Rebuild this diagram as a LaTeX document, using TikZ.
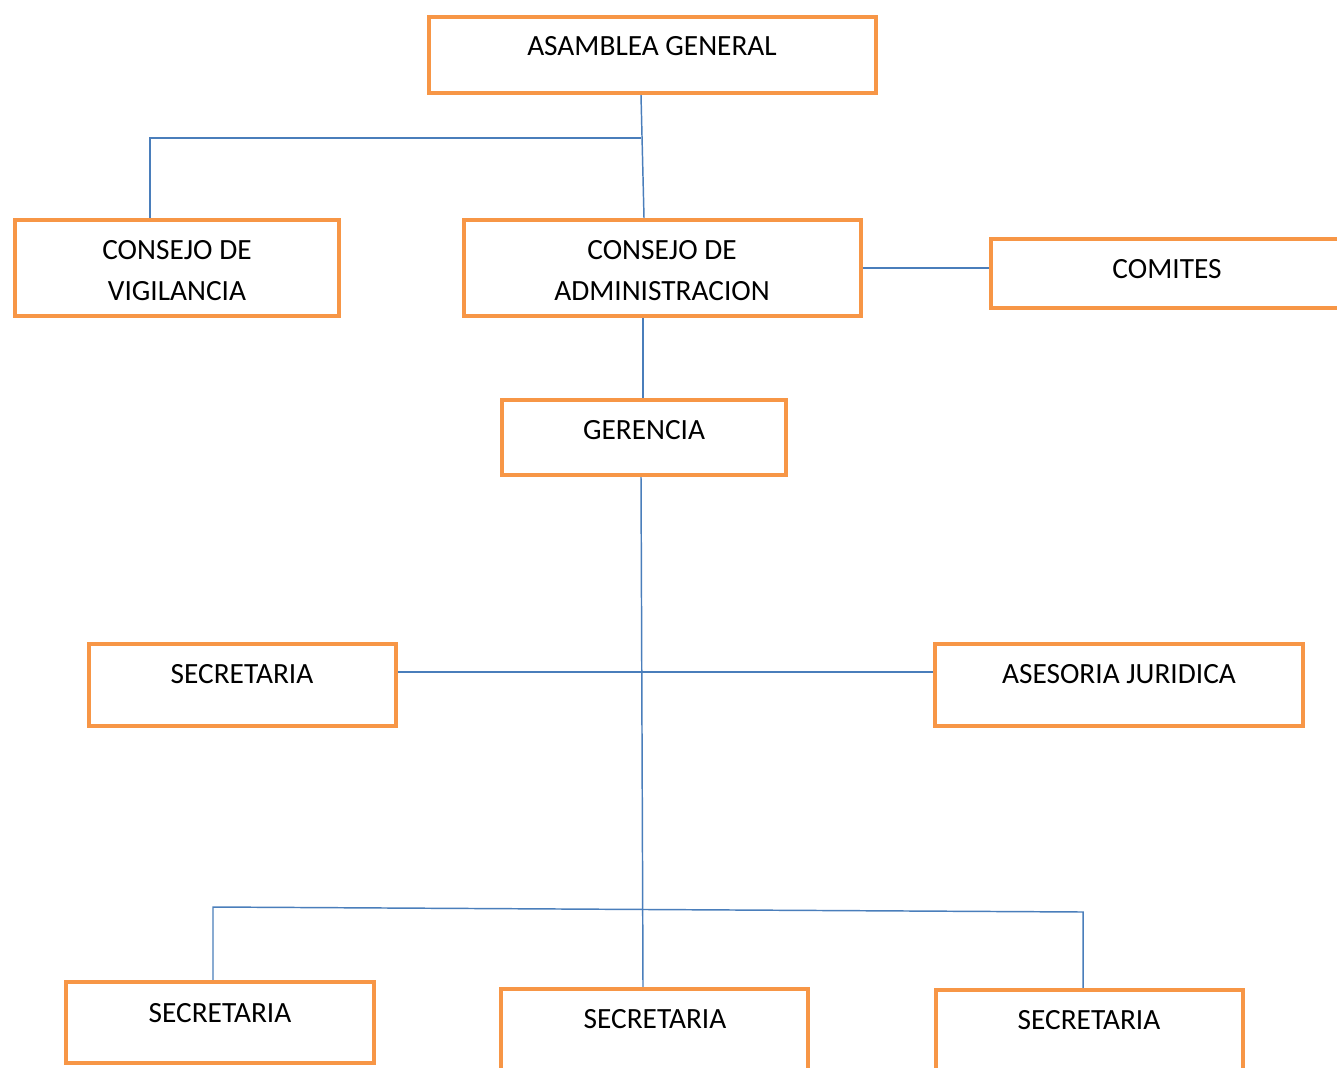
\documentclass[tikz,border=0pt]{standalone}
\usepackage{fontspec}
\setmainfont{Carlito}
\usetikzlibrary{fit}
\definecolor{boxorange}{HTML}{F79646}
\definecolor{connblue}{HTML}{4A7EBB}
\tikzset{
  box/.style={draw=boxorange, line width=3.2pt, fill=white, inner sep=0pt, rectangle},
  conn/.style={draw=connblue, line width=1.1pt},
  txt/.style={inner sep=0pt, anchor=base, align=center, font=\fontsize{22}{30.75}\selectfont, text=black}
}
\begin{document}
\begin{tikzpicture}[x=0.75pt,y=-0.75pt]
\useasboundingbox (0,0) rectangle (1337,1067);
\clip (0,0) rectangle (1337,1067);
\fill[white] (0,0) rectangle (1337,1067);

% boxes
\node[box, fit={(429,17) (876,93)}] (ag) {};
\node[box, fit={(15,220) (339,316)}] (cv) {};
\node[box, fit={(464,220) (861,316)}] (cadm) {};
\node[box, fit={(991,239) (1350,308)}] (com) {};
\node[box, fit={(502,400) (786,475)}] (ger) {};
\node[box, fit={(89,644) (396,726)}] (sec) {};
\node[box, fit={(935,644) (1303,726)}] (ase) {};
\node[box, fit={(66,982) (374,1063)}] (sb1) {};
\node[box, fit={(501,989) (808,1100)}] (sb2) {};
\node[box, fit={(936,990) (1243,1100)}] (sb3) {};

% texts (two-line nodes: base = baseline of last line)
\node[txt] (tag) at (652,55) {ASAMBLEA GENERAL};
\node[txt] (tcv) at (177,300) {CONSEJO DE\\VIGILANCIA};
\node[txt] (tcadm) at (662,300) {CONSEJO DE\\ADMINISTRACION};
\node[txt] (tcom) at (1167,278) {COMITES};
\node[txt] (tger) at (644,439) {GERENCIA};
\node[txt] (tsec) at (242,683) {SECRETARIA};
\node[txt] (tase) at (1119,683) {ASESORIA JURIDICA};
\node[txt] (tsb1) at (220,1022) {SECRETARIA};
\node[txt] (tsb2) at (655,1028) {SECRETARIA};
\node[txt] (tsb3) at (1089,1029) {SECRETARIA};

% helper coordinates
\coordinate (j1) at (641,138);
\coordinate (j2) at (150,138);
\coordinate (x644) at (644,0);
\coordinate (x643) at (643,0);
\coordinate (x641) at (641,0);
\coordinate (y672) at (0,672);
\coordinate (b1) at (213,907);
\coordinate (b2) at (1083,912);

% connectors
\draw[conn] (ag.south -| j1) -- (cadm.north -| x644);
\draw[conn] (cv.north -| j2) -- (j2) -- (j1);
\draw[conn] (cadm.east) -- (cadm.east -| com.west);
\draw[conn] (cadm.south -| x643) -- (ger.north -| x643);
\draw[conn] (ger.south -| x641) -- (sb2.north -| x643);
\draw[conn] (sec.east |- y672) -- (ase.west |- y672);
\draw[conn] (sb1.north -| b1) -- (b1) -- (b2) -- (sb3.north -| b2);
\end{tikzpicture}
\end{document}
